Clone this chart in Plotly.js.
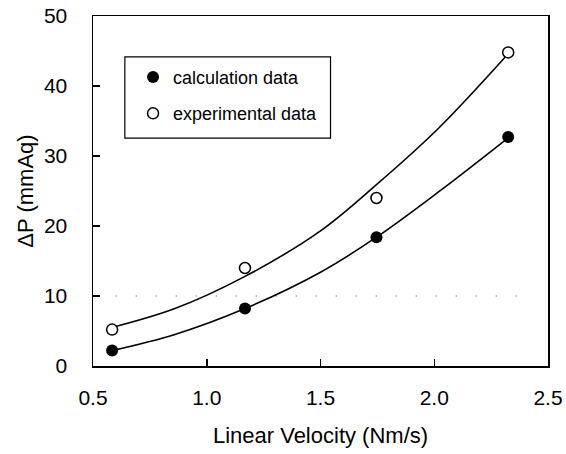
<!DOCTYPE html>
<html>
<head>
<meta charset="utf-8">
<script src="https://cdn.plot.ly/plotly-3.0.1.min.js"></script>
<style>html,body{margin:0;padding:0;background:#fff;}#chart{width:566px;height:454px;}</style>
</head>
<body>
<div id="chart"></div>
<script>
// Measured data points
const velocity = [0.584, 1.168, 1.746, 2.325];
const calcData = [2.2, 8.2, 18.4, 32.7];
const expData = [5.2, 14.0, 24.0, 44.8];
// Fitted curves
const fitX = [0.584, 0.86, 1.168, 1.5, 1.746, 2.02, 2.325];
const fitExp = [5.5, 8.2, 12.8, 19.3, 25.9, 34.0, 44.6];
const fitCalc = [2.2, 4.5, 8.2, 13.4, 18.4, 24.9, 32.6];
const xTicks = [0.5, 1.0, 1.5, 2.0, 2.5];
const xTickText = ['0.5', '1.0', '1.5', '2.0', '2.5'];
const yTicks = [0, 10, 20, 30, 40, 50];

const FONT = 'Liberation Sans, Arial, Helvetica, sans-serif';

const traces = [
  {x: fitX, y: fitExp, mode: 'lines', line: {color: '#000', width: 1.6, shape: 'spline', smoothing: 1}, showlegend: false, hoverinfo: 'skip'},
  {x: fitX, y: fitCalc, mode: 'lines', line: {color: '#000', width: 1.6, shape: 'spline', smoothing: 1}, showlegend: false, hoverinfo: 'skip'},
  {x: velocity, y: calcData, mode: 'markers', name: 'calculation data', legendgroup: 'a',
   marker: {symbol: 'circle', size: 12, color: '#000'}},
  {x: velocity, y: expData, mode: 'markers', name: 'experimental data', legendgroup: 'b',
   marker: {symbol: 'circle', size: 11, color: '#fff', line: {color: '#000', width: 1.5}}}
];

const layout = {
  width: 566, height: 454,
  margin: {l: 93, r: 18, t: 16, b: 88},
  paper_bgcolor: '#fff', plot_bgcolor: '#fff',
  font: {family: FONT, color: '#000', size: 19},
  showlegend: true,
  legend: {
    x: 0.088, y: 0.878, xanchor: 'left', yanchor: 'top',
    bgcolor: 'rgba(0,0,0,0)', borderwidth: 0,
    font: {family: FONT, size: 18, color: '#000'},
    tracegroupgap: 10, traceorder: 'grouped'
  },
  xaxis: {
    range: [0.5, 2.5], tickvals: xTicks, ticktext: xTickText,
    ticks: 'inside', ticklen: 7, tickwidth: 1.5, tickcolor: '#000',
    showline: true, linecolor: '#000', linewidth: 1.5, mirror: true,
    showgrid: false, zeroline: false, ticklabelstandoff: 12,
    tickfont: {family: FONT, size: 21, color: '#000'},
    title: {text: 'Linear Velocity (Nm/s)', font: {family: FONT, size: 22, color: '#000'}, standoff: 20}
  },
  yaxis: {
    range: [0, 50], tickvals: yTicks,
    ticks: 'inside', ticklen: 7, tickwidth: 1.5, tickcolor: '#000',
    showline: true, linecolor: '#000', linewidth: 1.5, mirror: true,
    showgrid: false, zeroline: false, ticklabelstandoff: 20,
    tickfont: {family: FONT, size: 21, color: '#000'},
    title: {text: 'ΔP (mmAq)', font: {family: FONT, size: 22, color: '#000'}, standoff: 4}
  },
  shapes: [
    {type: 'line', xref: 'x', yref: 'y', x0: 0.6, x1: 2.37, y0: 10, y1: 10,
     line: {color: '#555', width: 1.2, dash: '1px,19px'}, layer: 'below'},
    {type: 'rect', xref: 'paper', yref: 'paper', x0: 0.07, x1: 0.522, y0: 0.651, y1: 0.883,
     line: {color: '#000', width: 1.2}, fillcolor: 'rgba(0,0,0,0)'}
  ]
};

Plotly.newPlot('chart', traces, layout, {displayModeBar: false, staticPlot: true});
</script>
</body>
</html>
